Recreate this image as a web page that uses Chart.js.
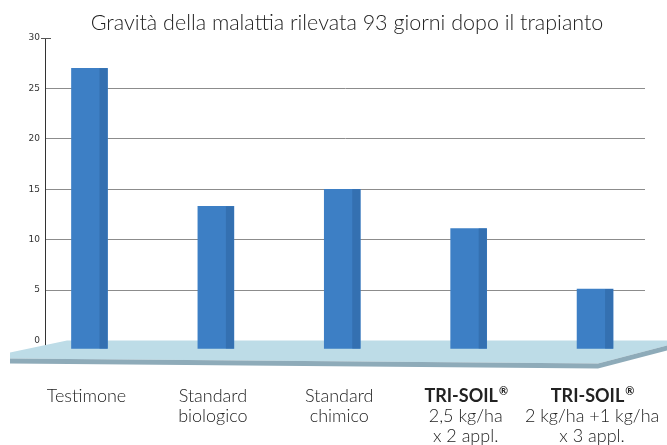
<!DOCTYPE html>
<html>
<head>
<meta charset="utf-8">
<script src="https://cdn.jsdelivr.net/npm/chart.js@4.4.0/dist/chart.umd.min.js"></script>
<style>
  html, body { margin: 0; padding: 0; background: #fff; }
  #wrap { width: 667px; height: 445px; }
</style>
</head>
<body>
<div id="wrap"><canvas id="chart"></canvas></div>
<script>
// Dati del grafico
const chartTitle = 'Gravità della malattia rilevata 93 giorni dopo il trapianto';
const categories = [
  ['Testimone'],
  ['Standard', 'biologico'],
  ['Standard', 'chimico'],
  ['TRI-SOIL®', '2,5 kg/ha', 'x 2 appl.'],
  ['TRI-SOIL®', '2 kg/ha +1 kg/ha', 'x 3 appl.'],
];
const severity = [27, 13.3, 15, 11.1, 5.1];
const yTicks = [0, 5, 10, 15, 20, 25, 30];

const barColor = '#3d7fc5';
const barSideColor = '#3470b1';

// Pavimento "3D" sotto le barre
const floorPlugin = {
  id: 'floor',
  beforeDatasetsDraw(chart) {
    const { ctx, chartArea } = chart;
    const y0 = chart.scales.y.getPixelForValue(0);
    const { left, right } = chartArea;
    const W = chart.width;

    ctx.save();
    ctx.fillStyle = '#bddce7';
    ctx.beginPath();
    ctx.moveTo(left - 35, y0 + 12);
    ctx.lineTo(left + 22, y0);
    ctx.lineTo(W, y0);
    ctx.lineTo(W, y0 + 5);
    ctx.lineTo(right - 47, y0 + 23);
    ctx.lineTo(left - 35, y0 + 18);
    ctx.closePath();
    ctx.fill();

    ctx.fillStyle = '#8eabb9';
    ctx.beginPath();
    ctx.moveTo(left - 35, y0 + 18);
    ctx.lineTo(right - 47, y0 + 23);
    ctx.lineTo(W, y0 + 5);
    ctx.lineTo(W, y0 + 10);
    ctx.lineTo(right - 47, y0 + 28);
    ctx.lineTo(left - 35, y0 + 23);
    ctx.closePath();
    ctx.fill();
    ctx.restore();
  },
};

// Lato destro più scuro delle barre
const barSidePlugin = {
  id: 'barSide',
  afterDatasetsDraw(chart) {
    const { ctx } = chart;
    const meta = chart.getDatasetMeta(0);
    ctx.save();
    ctx.fillStyle = barSideColor;
    meta.data.forEach((bar) => {
      const w = bar.width;
      ctx.fillRect(bar.x + w / 2 - 8, bar.y, 8, bar.base - bar.y);
    });
    ctx.restore();
  },
};

// Disegna una riga centrata, con il ® più piccolo e in apice
function drawLine(ctx, text, x, y, weight, size) {
  const font = `${weight} ${size}px Lato`;
  const supFont = `${weight} ${Math.round(size * 0.6)}px Lato`;
  const parts = text.split('®');
  ctx.font = font;
  const mainW = ctx.measureText(parts.join('')).width;
  ctx.font = supFont;
  const supW = parts.length > 1 ? ctx.measureText('®').width : 0;
  let cx = x - (mainW + supW) / 2;
  ctx.textAlign = 'left';
  parts.forEach((p, k) => {
    ctx.font = font;
    ctx.fillText(p, cx, y);
    cx += ctx.measureText(p).width;
    if (k < parts.length - 1) {
      ctx.font = supFont;
      ctx.fillText('®', cx + 1, y - size * 0.38);
      cx += supW + 1;
    }
  });
}

// Titolo, etichette delle categorie e tacca a 30
const labelsPlugin = {
  id: 'labels',
  afterDraw(chart) {
    const { ctx, chartArea } = chart;
    const xScale = chart.scales.x;
    const yScale = chart.scales.y;
    const y0 = yScale.getPixelForValue(0);

    ctx.save();
    ctx.fillStyle = '#222';
    ctx.textAlign = 'center';
    ctx.textBaseline = 'alphabetic';
    ctx.font = '300 21.5px Lato';
    ctx.fillText(chartTitle, (chartArea.left + chartArea.right) / 2 + 2, 30);

    categories.forEach((lines, i) => {
      const x = xScale.getPixelForValue(i) - 3;
      lines.forEach((line, j) => {
        const bold = line.includes('®');
        drawLine(ctx, line, x, y0 + 61.5 + j * 20.2, bold ? 700 : 300, 18);
      });
    });

    const y30 = yScale.getPixelForValue(30);
    ctx.strokeStyle = '#555';
    ctx.lineWidth = 1;
    ctx.beginPath();
    ctx.moveTo(chartArea.left - 4, Math.round(y30) + 0.5);
    ctx.lineTo(chartArea.left + 6, Math.round(y30) + 0.5);
    ctx.stroke();
    ctx.restore();
  },
};

const ctx = document.getElementById('chart').getContext('2d');
new Chart(ctx, {
  type: 'bar',
  data: {
    datasets: [
      {
        label: 'Gravità',
        data: severity.map((v, i) => ({ x: i, y: v })),
        backgroundColor: barColor,
        borderWidth: 0,
        barThickness: 36,
        base: -0.8,
      },
    ],
  },
  options: {
    animation: false,
    responsive: true,
    maintainAspectRatio: false,
    layout: {
      padding: { top: 38, right: 22, bottom: 94.5, left: 0 },
    },
    plugins: {
      legend: { display: false },
      tooltip: { enabled: false },
      title: { display: false },
    },
    scales: {
      x: {
        type: 'linear',
        display: false,
        min: -0.352,
        max: 4.395,
        offset: false,
        grid: { display: false },
      },
      y: {
        min: -1,
        max: 30,
        afterBuildTicks: (scale) => {
          scale.ticks = yTicks.map((v) => ({ value: v }));
        },
        afterFit: (scale) => {
          scale.width = 45;
        },
        border: { display: true, color: '#333', width: 1 },
        grid: {
          drawTicks: false,
          lineWidth: 1,
          color: (c) => (c.tick && (c.tick.value === 30 || c.tick.value === 0) ? 'rgba(0,0,0,0)' : '#8c8c8c'),
        },
        ticks: {
          padding: 5,
          color: '#333',
          font: { family: 'DejaVu Sans', size: 9 },
        },
      },
    },
  },
  plugins: [floorPlugin, barSidePlugin, labelsPlugin],
});
</script>
</body>
</html>
